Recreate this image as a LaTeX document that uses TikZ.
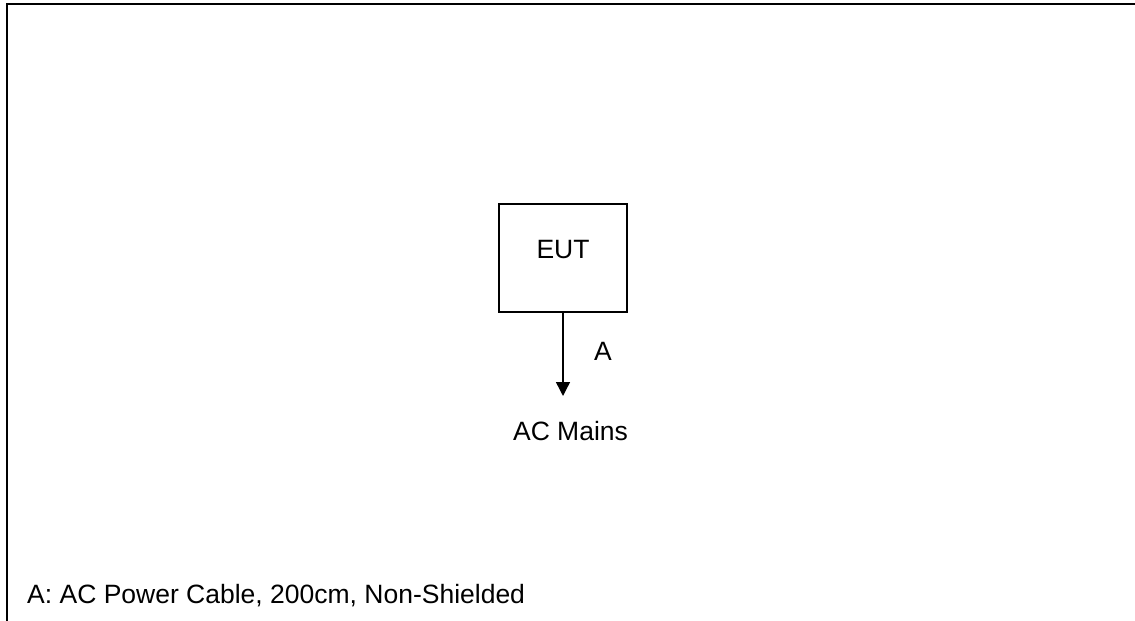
\documentclass[tikz,border=0pt]{standalone}
\usepackage{fontspec}
\setmainfont{Liberation Sans}
\usetikzlibrary{arrows.meta}
\begin{document}
\begin{tikzpicture}[x=1pt, y=-1pt,
  every node/.style={inner sep=0pt, font=\fontsize{26.5}{31}\selectfont},
  eutbox/.style={draw, line width=1.4pt, minimum width=128pt, minimum height=108pt, font=\fontsize{21.5}{26}\selectfont},
  cable/.style={line width=1.4pt, -{Triangle[width=14pt,length=14pt]}}]
  \useasboundingbox (0,0) rectangle (1135,621);
  % frame
  \draw[line width=2pt] (7,621) -- (7,4) -- (1136,4);
  \node[eutbox] (eut) at (563,258) {};
  \node[anchor=base] (euttext) at (563,258) {EUT};
  \coordinate (tip) at (563,396);
  \draw[cable] (eut.south) -- (tip);
  \node[anchor=base] (cablea) at (603,360) {A};
  \node[anchor=base] (mains) at (570.5,440) {AC Mains};
  \node[anchor=base west] (legend) at (27,603) {A: AC Power Cable, 200cm, Non-Shielded};
\end{tikzpicture}
\end{document}
